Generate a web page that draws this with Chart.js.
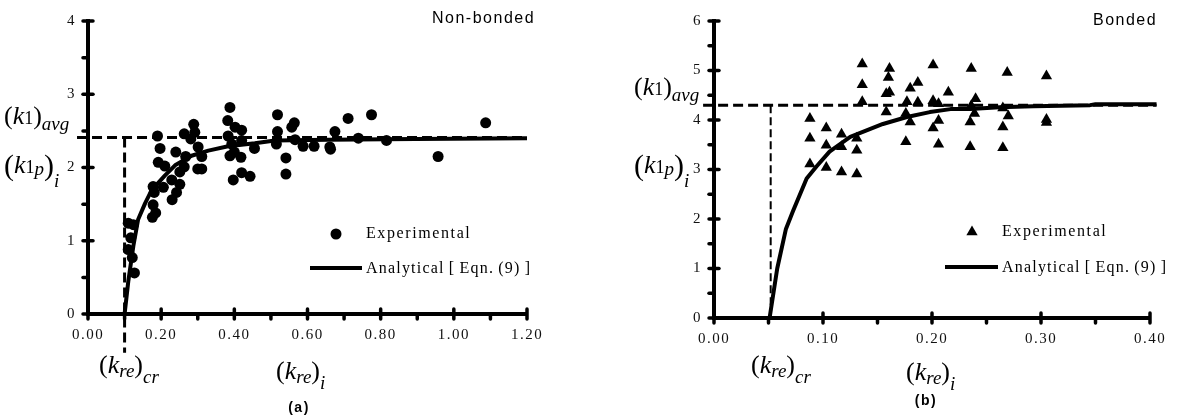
<!DOCTYPE html>
<html>
<head>
<meta charset="utf-8">
<script src="https://cdn.jsdelivr.net/npm/chart.js@4.4.1/dist/chart.umd.min.js"></script>
<style>
body{margin:0;background:#fff;width:1177px;height:418px;overflow:hidden;position:relative}
canvas{position:absolute;top:0}
#chartA{left:0}
#chartB{left:560px}
</style>
</head>
<body>
<canvas id="chartA" width="560" height="418"></canvas>
<canvas id="chartB" width="617" height="418"></canvas>
<script>
// (a) non-bonded: experimental points
const expAx = [0.388,0.518,0.775,0.711,0.382,0.289,0.564,0.557,0.402,0.420,0.518,0.263,0.292,0.675,0.190,0.383,0.281,0.739,0.816,0.566,0.515,0.588,0.618,0.661,0.663,0.455,0.420,0.393,0.400,0.418,0.388,0.311,0.301,0.267,0.197,0.240,0.541,0.541,0.397,0.420,0.443,0.192,0.210,0.263,0.251,0.311,0.300,0.229,0.251,0.206,0.178,0.181,0.242,0.230,0.178,0.185,0.176,0.110,0.124,0.117,0.110,0.121,0.127,1.087,0.957];
const expAy = [2.82,2.72,2.72,2.67,2.64,2.59,2.61,2.55,2.55,2.51,2.49,2.46,2.48,2.49,2.43,2.43,2.39,2.40,2.37,2.38,2.32,2.29,2.29,2.28,2.25,2.26,2.37,2.32,2.21,2.14,2.16,2.15,2.28,2.15,2.26,2.21,2.13,1.91,1.83,1.93,1.88,2.07,2.02,2.01,1.94,1.98,1.98,1.83,1.77,1.73,1.74,1.66,1.66,1.56,1.49,1.38,1.32,1.24,1.22,1.04,0.88,0.77,0.56,2.61,2.15];
// (a) analytical curve
const anaAx = [0.100,0.110,0.124,0.137,0.156,0.174,0.210,0.238,0.283,0.329,0.383,0.456,0.511,0.657,0.893,1.200];
const anaAy = [0,0.44,0.93,1.29,1.51,1.69,1.89,2.03,2.16,2.23,2.29,2.33,2.37,2.38,2.39,2.40];
const avgA = 2.41, crA = 0.10;

// (b) bonded: experimental points
const expBx = [0.136,0.136,0.136,0.161,0.160,0.158,0.161,0.158,0.180,0.187,0.187,0.177,0.201,0.201,0.206,0.215,0.176,0.180,0.206,0.201,0.176,0.206,0.236,0.240,0.236,0.239,0.235,0.235,0.269,0.265,0.270,0.265,0.265,0.305,0.305,0.305,0.088,0.088,0.088,0.103,0.103,0.117,0.117,0.131,0.131,0.103,0.117,0.131];
const expBy = [5.13,4.71,4.37,5.04,4.86,4.53,4.56,4.16,4.64,4.76,4.36,4.37,5.11,4.39,4.33,4.56,4.13,3.96,3.99,3.84,3.56,3.51,5.04,4.43,4.29,4.13,3.96,3.46,4.96,4.24,4.08,3.86,3.44,4.89,4.01,3.95,4.03,3.63,3.11,3.84,3.49,3.71,3.46,3.63,3.39,3.04,2.95,2.91];
// (b) analytical curve
const anaBx = [0.051,0.058,0.066,0.0725,0.085,0.094,0.106,0.125,0.155,0.177,0.198,0.217,0.235,0.262,0.293,0.345,0.350,0.406];
const anaBy = [0,1.0,1.8,2.16,2.82,3.06,3.36,3.66,3.92,4.06,4.16,4.22,4.22,4.26,4.28,4.30,4.32,4.32];
const avgB = 4.30, crB = 0.052;

const legendText = ['Experimental', 'Analytical [ Eqn. (9) ]'];
const titleA = 'Non-bonded', titleB = 'Bonded';
const capA = '(a)', capB = '(b)';

const pts = (xs, ys) => xs.map((x,i)=>({x, y: ys[i]}));
const SERIF = '"Liberation Serif", "Times New Roman", serif';
const SANS = '"Liberation Sans", Arial, sans-serif';

// math-ish labels: [text, italic, size, dy]
const avgLabel = [['(',0,26,0],['k',1,26,0],['1',0,18,0],[')',0,26,0],['avg',1,19,6]];
const kpLabel = [['(',0,30,2],['k',1,26,0],['1',0,18,0],['p',1,19,2],[')',0,30,2],['i',1,19,14]];
const crLabel = [['(',0,26,0],['k',1,26,0],['re',1,19,4],[')',0,26,0],['cr',1,19,10]];
const iLabel = [['(',0,26,0],['k',1,26,0],['re',1,19,4],[')',0,26,0],['i',1,19,10]];

function runs(ctx, x, y, parts){
    parts.forEach(([t, it, sz, dy])=>{
        ctx.font = (it ? 'italic ' : '') + sz + 'px ' + SERIF;
        ctx.fillText(t, x, y + dy);
        x += ctx.measureText(t).width;
    });
}

function line(ctx, x1, y1, x2, y2){
    ctx.beginPath(); ctx.moveTo(x1, y1); ctx.lineTo(x2, y2); ctx.stroke();
}

function deco(cfg){
    return {
        id: 'deco',
        beforeDraw(chart){ chart.ctx.letterSpacing = '1.5px'; },
        afterDraw(chart){
            const ctx = chart.ctx, sx = chart.scales.x, sy = chart.scales.y;
            const a = chart.chartArea;
            ctx.save();
            ctx.letterSpacing = '0px';
            ctx.strokeStyle = '#000'; ctx.fillStyle = '#000';
            // axis lines
            ctx.lineWidth = 4; ctx.lineCap = 'butt';
            line(ctx, a.left, a.top, a.left, a.bottom + 2);
            line(ctx, a.left - 2, a.bottom, a.right, a.bottom);
            // tick marks: major cross the axis, minor outside only
            ctx.lineWidth = 3.5; ctx.lineCap = 'round';
            sx.ticks.forEach(t=>{
                const px = sx.getPixelForValue(t.value);
                if (t.label !== '') line(ctx, px, a.bottom-5, px, a.bottom+5);
                else line(ctx, px, a.bottom, px, a.bottom+5);
            });
            sy.ticks.forEach(t=>{
                const py = sy.getPixelForValue(t.value);
                if (t.label !== '') line(ctx, a.left-5, py, a.left+5, py);
                else line(ctx, a.left-5, py, a.left, py);
            });
            // math labels
            cfg.labels.forEach(l=> runs(ctx, l.x, l.y, l.parts));
            // legend
            const lg = cfg.legend;
            ctx.letterSpacing = '1.6px';
            ctx.font = '16px ' + SERIF;
            ctx.textAlign = 'left';
            ctx.fillText(legendText[0], lg.tx, lg.b1);
            ctx.letterSpacing = '1.2px';
            ctx.wordSpacing = '-1px';
            ctx.fillText(legendText[1], lg.tx, lg.b2);
            ctx.wordSpacing = '0px';
            ctx.letterSpacing = '0px';
            ctx.beginPath();
            if (cfg.marker === 'circle'){
                ctx.arc(lg.mx, lg.my, 5.5, 0, Math.PI*2);
            } else {
                const r = 6.5;
                ctx.moveTo(lg.mx, lg.my - r);
                ctx.lineTo(lg.mx + r*0.866, lg.my + r/2);
                ctx.lineTo(lg.mx - r*0.866, lg.my + r/2);
                ctx.closePath();
            }
            ctx.fill();
            ctx.lineWidth = 4; ctx.lineCap = 'butt';
            line(ctx, lg.l1, lg.ly, lg.l2, lg.ly);
            // panel title and caption
            ctx.letterSpacing = '1.5px';
            ctx.font = '16px ' + SANS;
            ctx.fillText(cfg.title, cfg.tx, cfg.ty);
            ctx.font = 'bold 14px ' + SANS;
            ctx.textAlign = 'center';
            ctx.fillText(cfg.cap, cfg.cx, cfg.cy);
            ctx.restore();
        }
    };
}

function makeChart(id, o){
    return new Chart(document.getElementById(id), {
        type: 'scatter',
        data: { datasets: [
            { data: o.exp, pointStyle: o.marker, pointRadius: o.marker==='circle' ? 5.5 : 6.5,
              backgroundColor: '#000', borderWidth: 0 },
            { data: o.ana, showLine: true, pointRadius: 0, borderColor: '#000', borderWidth: 4,
              tension: 0, borderJoinStyle: 'round', clip: false },
            { data: o.hDash, showLine: true, pointRadius: 0, borderColor: '#000', borderWidth: 3,
              borderDash: [10,5], clip: false },
            { data: o.vDash, showLine: true, pointRadius: 0, borderColor: '#000', borderWidth: o.vw,
              borderDash: o.vd, clip: false }
        ]},
        options: {
            responsive: false, animation: false, events: [],
            layout: { padding: o.pad },
            plugins: { legend: { display: false }, tooltip: { enabled: false } },
            scales: {
                x: {
                    type: 'linear', min: 0, max: o.xmax,
                    afterFit: s => { s.height = 40; },
                    grid: { display: false, drawTicks: false },
                    border: { display: true, color: '#000', width: 4 },
                    ticks: { stepSize: o.xstep, autoSkip: false, padding: 12, color: '#111',
                        font: { family: SERIF, size: 15 },
                        callback: v => Math.round(v/o.xstep) % 2 === 0 ? v.toFixed(2) : '' }
                },
                y: {
                    min: 0, max: o.ymax,
                    afterFit: s => { s.width = o.yw; },
                    grid: { display: false, drawTicks: false },
                    border: { display: true, color: '#000', width: 4 },
                    ticks: { stepSize: 0.5, autoSkip: false, padding: 12, color: '#111',
                        font: { family: SERIF, size: 15 },
                        callback: v => Number.isInteger(v) ? String(v) : '' }
                }
            }
        },
        plugins: [deco(o.deco)]
    });
}

makeChart('chartA', {
    exp: pts(expAx, expAy), ana: pts(anaAx, anaAy), marker: 'circle',
    hDash: [{x:-0.03, y:avgA}, {x:1.2, y:avgA}],
    vDash: [{x:crA, y:avgA}, {x:crA, y:-0.53}], vw: 3, vd: [10,5],
    xmax: 1.2, xstep: 0.1, ymax: 4, yw: 88,
    pad: { left: 0, right: 33, top: 17, bottom: 64 },
    deco: {
        marker: 'circle',
        labels: [
            {x:4, y:124, parts: avgLabel}, {x:4, y:173, parts: kpLabel},
            {x:99, y:373, parts: crLabel}, {x:276, y:379, parts: iLabel}
        ],
        legend: { mx:336, my:234, tx:366, b1:238, b2:273, l1:310, l2:362, ly:268 },
        title: titleA, tx: 432, ty: 23, cap: capA, cx: 299, cy: 412
    }
});

makeChart('chartB', {
    exp: pts(expBx, expBy), ana: pts(anaBx, anaBy), marker: 'triangle',
    hDash: [{x:-0.01, y:avgB}, {x:0.406, y:avgB}],
    vDash: [{x:crB, y:avgB}, {x:crB, y:0}], vw: 2, vd: [8,4],
    xmax: 0.4, xstep: 0.05, ymax: 6, yw: 154,
    pad: { left: 0, right: 27, top: 18, bottom: 60 },
    deco: {
        marker: 'triangle',
        labels: [
            {x:74, y:95, parts: avgLabel}, {x:74, y:173, parts: kpLabel},
            {x:191, y:373, parts: crLabel}, {x:346, y:380, parts: iLabel}
        ],
        legend: { mx:412, my:232, tx:442, b1:236, b2:272, l1:385, l2:438, ly:267 },
        title: titleB, tx: 533, ty: 25, cap: capB, cx: 366, cy: 405
    }
});
</script>
</body>
</html>
